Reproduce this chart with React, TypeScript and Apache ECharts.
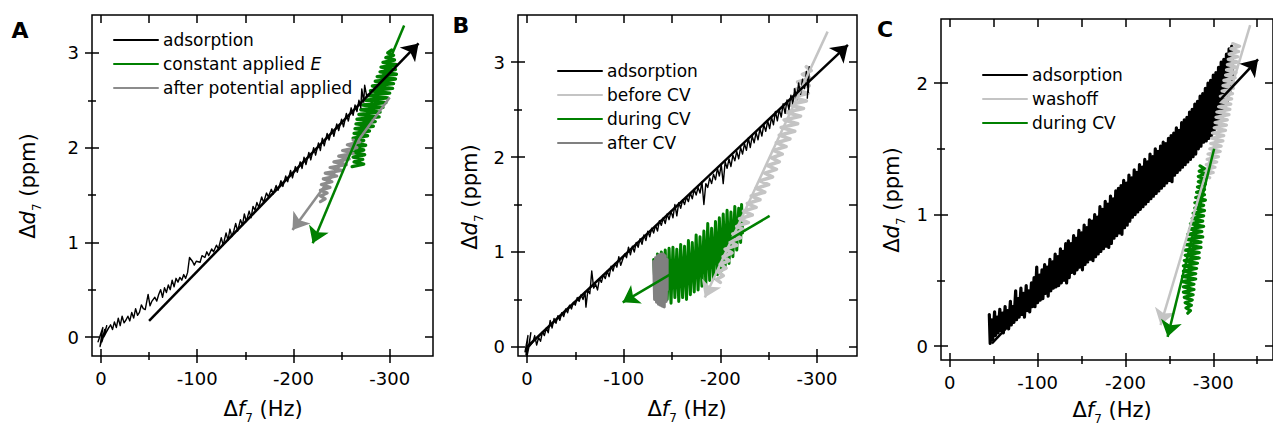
import React, { useEffect, useRef } from "react";
import * as echarts from "echarts";

const FONT = "DejaVu Sans";
const BLACK = "#000000";
const GREEN = "#008000";
const LIGHT = "#c4c4c4";
const MID = "#8c8c8c";
const DARK = "#808080";

// ---------- ticks ----------
const xMajor = [0, -100, -200, -300];
const xMinorAB = [-50, -150, -250];
const xMinorC = [-50, -150, -250, -350];
const yMajorAB = [0, 1, 2, 3];
const yMinorAB = [0.5, 1.5, 2.5];
const yMajorC = [0, 1, 2];
const yMinorC = [0.5, 1.5];

// ---------- Panel A ----------
const aAdsorption = [
  [3, -0.05], [-2, 0.1], [1, -0.1], [-4, 0.08], [-1, -0.05], [-6, 0.12], [-3, 0.0], [-8, 0.1], [-5, 0.04], [-10, 0.13],
  [-12, 0.08], [-14, 0.16], [-16, 0.1], [-18, 0.2], [-20, 0.12], [-22, 0.22], [-24, 0.15], [-26, 0.18], [-28, 0.22], [-30, 0.17],
  [-32, 0.26], [-34, 0.2], [-36, 0.3], [-38, 0.23], [-40, 0.26], [-42, 0.34], [-44, 0.3], [-46, 0.29], [-49, 0.45], [-51, 0.33],
  [-53, 0.38], [-56, 0.42], [-58, 0.38], [-60, 0.45], [-62, 0.5], [-64, 0.42], [-66, 0.52], [-68, 0.47], [-70, 0.55], [-72, 0.5],
  [-74, 0.6], [-76, 0.53], [-78, 0.62], [-80, 0.58], [-82, 0.63], [-84, 0.6], [-86, 0.66], [-88, 0.62], [-90, 0.68], [-92, 0.84],
  [-95, 0.8], [-97, 0.76], [-99, 0.8], [-103, 0.79], [-105, 0.86], [-108, 0.84], [-110, 0.9], [-112, 0.86], [-115, 0.93], [-117, 0.9],
  [-120, 0.97], [-122, 0.93], [-125, 1.05], [-127, 0.97], [-130, 1.1], [-132, 1.02], [-134, 1.14], [-136, 1.06], [-138, 1.12], [-140, 1.2],
  [-142, 1.12], [-145, 1.24], [-147, 1.18], [-149, 1.3], [-151, 1.22], [-154, 1.33], [-156, 1.26], [-158, 1.38], [-160, 1.34], [-162, 1.42],
  [-164, 1.37], [-167, 1.48], [-169, 1.42], [-172, 1.52], [-174, 1.48], [-177, 1.56], [-179, 1.51], [-182, 1.6], [-184, 1.55], [-187, 1.65],
  [-189, 1.59], [-192, 1.7], [-194, 1.64], [-197, 1.76], [-199, 1.68], [-202, 1.8], [-204, 1.74], [-207, 1.85], [-209, 1.78], [-211, 1.9],
  [-213, 1.82], [-216, 1.95], [-218, 1.87], [-221, 2.0], [-223, 1.92], [-226, 2.05], [-228, 1.97], [-230, 2.1], [-232, 2.02], [-235, 2.15],
  [-237, 2.08], [-240, 2.2], [-242, 2.12], [-245, 2.25], [-247, 2.18], [-250, 2.3], [-252, 2.22], [-255, 2.36], [-257, 2.28], [-260, 2.42],
  [-262, 2.34], [-264, 2.45], [-266, 2.38], [-268, 2.5], [-270, 2.42], [-271, 2.62], [-273, 2.48], [-274, 2.66], [-276, 2.55],
];
const aConstantE = [
  [-261, 1.8], [-273, 1.825], [-263, 1.85], [-272, 1.875], [-262, 1.9], [-274, 1.925], [-261, 1.95], [-273, 1.975], [-262, 2.0], [-275, 2.025],
  [-263, 2.05], [-273, 2.075], [-262, 2.1], [-277, 2.125], [-263, 2.15], [-279, 2.175], [-264, 2.2], [-283, 2.225], [-265, 2.25], [-285, 2.275],
  [-266, 2.3], [-289, 2.325], [-268, 2.35], [-290, 2.375], [-270, 2.4], [-293, 2.425], [-272, 2.45], [-296, 2.475], [-275, 2.5], [-298, 2.525],
  [-277, 2.55], [-300, 2.575], [-280, 2.6], [-303, 2.625], [-282, 2.65], [-304, 2.675], [-285, 2.7], [-306, 2.725], [-287, 2.75], [-307, 2.775],
  [-290, 2.8], [-306, 2.825], [-291, 2.85], [-307, 2.875], [-293, 2.9], [-305, 2.925], [-296, 2.95], [-304, 2.975], [-298, 3.0], [-302, 3.03],
];
const aAfter = [
  [-228, 1.43], [-233, 1.46], [-228, 1.49], [-235, 1.52], [-228, 1.55], [-238, 1.58], [-229, 1.61], [-240, 1.64], [-231, 1.67], [-245, 1.7],
  [-233, 1.73], [-250, 1.76], [-238, 1.79], [-255, 1.82], [-242, 1.85], [-258, 1.88], [-247, 1.91], [-262, 1.94], [-251, 1.97], [-266, 2.0],
  [-256, 2.03], [-269, 2.06], [-262, 2.08],
];
const aArrowAdsorption = [[-50, 0.17], [-330, 3.1]];
const aArrowConstantE = [[-315, 3.29], [-220, 0.99]];
const aArrowAfter = [[-300, 2.53], [-199, 1.13]];

// ---------- Panel B ----------
const bAdsorption = [
  [2, -0.05], [-1, 0.12], [1, -0.08], [-3, 0.05], [0, -0.1], [-4, 0.15], [-2, 0.0], [-6, 0.05], [-8, 0.12], [-10, 0.02],
  [-12, 0.1], [-14, 0.06], [-16, 0.16], [-18, 0.12], [-20, 0.2], [-22, 0.15], [-24, 0.28], [-26, 0.2], [-28, 0.3], [-30, 0.25],
  [-32, 0.33], [-34, 0.28], [-36, 0.36], [-38, 0.32], [-40, 0.4], [-42, 0.36], [-44, 0.44], [-46, 0.4], [-48, 0.47], [-50, 0.44],
  [-52, 0.52], [-54, 0.48], [-56, 0.55], [-58, 0.5], [-60, 0.58], [-61, 0.42], [-63, 0.6], [-65, 0.56], [-67, 0.8], [-69, 0.62],
  [-71, 0.66], [-73, 0.6], [-75, 0.72], [-77, 0.68], [-79, 0.76], [-81, 0.72], [-83, 0.8], [-85, 0.74], [-87, 0.85], [-89, 0.8],
  [-91, 0.88], [-93, 0.84], [-95, 0.95], [-97, 0.86], [-99, 0.92], [-101, 0.98], [-103, 0.94], [-105, 1.05], [-107, 0.97], [-109, 1.06],
  [-111, 1.0], [-113, 1.1], [-115, 1.05], [-117, 1.14], [-119, 1.08], [-121, 1.18], [-123, 1.12], [-125, 1.22], [-127, 1.16], [-129, 1.25],
  [-131, 1.2], [-133, 1.28], [-135, 1.22], [-137, 1.33], [-139, 1.28], [-141, 1.36], [-143, 1.3], [-145, 1.4], [-147, 1.34], [-149, 1.43],
  [-151, 1.36], [-153, 1.5], [-155, 1.38], [-157, 1.52], [-159, 1.46], [-161, 1.55], [-163, 1.5], [-165, 1.58], [-167, 1.53], [-169, 1.62],
  [-171, 1.56], [-173, 1.66], [-175, 1.6], [-177, 1.68], [-179, 1.62], [-181, 1.74], [-183, 1.5], [-185, 1.72], [-187, 1.68], [-189, 1.78],
  [-191, 1.72], [-193, 1.82], [-195, 1.76], [-197, 1.88], [-199, 1.8], [-201, 1.92], [-203, 1.72], [-205, 1.95], [-207, 1.88], [-209, 1.98],
  [-211, 1.9], [-213, 2.02], [-215, 1.96], [-217, 2.06], [-219, 1.98], [-221, 2.1], [-223, 2.03], [-225, 2.14], [-227, 2.07], [-229, 2.2],
  [-231, 2.1], [-233, 2.22], [-235, 2.15], [-237, 2.26], [-239, 2.18], [-241, 2.3], [-243, 2.22], [-245, 2.34], [-247, 2.27], [-249, 2.38],
  [-251, 2.3], [-253, 2.42], [-255, 2.34], [-257, 2.48], [-259, 2.38], [-261, 2.5], [-263, 2.42], [-265, 2.56], [-267, 2.46], [-269, 2.6],
  [-271, 2.5], [-273, 2.65], [-275, 2.56], [-277, 2.72], [-279, 2.6], [-281, 2.78], [-283, 2.66], [-285, 2.82], [-287, 2.72], [-289, 2.9],
  [-291, 2.68], [-292, 2.95], [-290, 2.62],
];
const bBeforeCV = [
  [-289, 2.95], [-294, 2.91], [-285, 2.87], [-293, 2.83], [-280, 2.79], [-292, 2.75], [-277, 2.71], [-291, 2.67], [-274, 2.63], [-289, 2.59],
  [-271, 2.55], [-286, 2.51], [-268, 2.47], [-283, 2.43], [-266, 2.39], [-280, 2.35], [-263, 2.31], [-277, 2.27], [-261, 2.23], [-272, 2.19],
  [-258, 2.15], [-268, 2.11], [-255, 2.07], [-264, 2.03], [-253, 1.99], [-261, 1.95], [-249, 1.91], [-258, 1.87], [-246, 1.83], [-254, 1.79],
  [-241, 1.75], [-250, 1.71], [-237, 1.67], [-246, 1.63], [-232, 1.59], [-241, 1.55], [-228, 1.51], [-237, 1.47], [-224, 1.43], [-233, 1.39],
  [-220, 1.35], [-229, 1.31], [-217, 1.27], [-225, 1.23], [-213, 1.19], [-221, 1.15], [-210, 1.11], [-217, 1.07], [-205, 1.03], [-212, 0.99],
  [-203, 0.95], [-209, 0.91], [-200, 0.87], [-206, 0.83], [-198, 0.79], [-203, 0.75], [-196, 0.71], [-200, 0.68],
];
const bDuringCV = [
  [-131, 0.92], [-133, 0.55], [-135, 0.98], [-137, 0.48], [-139, 1.0], [-141, 0.45], [-143, 1.02], [-145, 0.5], [-147, 1.04], [-149, 0.46],
  [-151, 1.05], [-153, 0.52], [-155, 1.03], [-157, 0.48], [-159, 1.08], [-161, 0.52], [-163, 1.06], [-165, 0.5], [-167, 1.12], [-169, 0.55],
  [-171, 1.1], [-173, 0.58], [-175, 1.18], [-177, 0.6], [-179, 1.16], [-181, 0.64], [-183, 1.22], [-185, 0.66], [-187, 1.3], [-189, 0.7],
  [-191, 1.25], [-193, 0.72], [-195, 1.32], [-197, 0.76], [-199, 1.36], [-201, 0.8], [-203, 1.4], [-205, 0.84], [-207, 1.44], [-209, 0.88],
  [-211, 1.42], [-213, 0.95], [-215, 1.48], [-217, 1.02], [-219, 1.46], [-221, 1.1], [-222, 1.5], [-223, 1.2],
];
const bAfterCV = [
  [-131, 0.9], [-132, 0.5], [-133, 0.94], [-134, 0.47], [-135, 0.96], [-136, 0.45], [-137, 0.97], [-138, 0.44], [-139, 0.98], [-140, 0.43],
  [-141, 0.98], [-142, 0.42], [-143, 0.96], [-144, 0.48], [-145, 0.92], [-145, 0.6],
];
const bArrowAdsorption = [[0, 0], [-332, 3.18]];
const bArrowBefore = [[-311, 3.32], [-184, 0.52]];
const bArrowDuring = [[-251, 1.38], [-99, 0.47]];

// ---------- Panel C ----------
const cAdsorption = [
  [-45, 0.24], [-46, 0.02], [-48, 0.2], [-49, 0.05], [-51, 0.26], [-52, 0.08], [-54, 0.22], [-55, 0.1], [-57, 0.28], [-58, 0.12],
  [-60, 0.25], [-61, 0.1], [-63, 0.3], [-64, 0.14], [-66, 0.27], [-67, 0.13], [-69, 0.34], [-70, 0.16], [-72, 0.3], [-73, 0.18],
  [-75, 0.42], [-76, 0.2], [-78, 0.36], [-79, 0.22], [-81, 0.44], [-82, 0.24], [-84, 0.4], [-85, 0.22], [-87, 0.46], [-88, 0.27],
  [-90, 0.42], [-91, 0.26], [-93, 0.48], [-94, 0.3], [-96, 0.52], [-97, 0.3], [-99, 0.6], [-100, 0.33], [-102, 0.54], [-103, 0.35],
  [-105, 0.58], [-106, 0.36], [-108, 0.62], [-109, 0.4], [-111, 0.6], [-112, 0.38], [-114, 0.66], [-115, 0.42], [-117, 0.64], [-118, 0.44],
  [-120, 0.7], [-121, 0.45], [-123, 0.68], [-124, 0.46], [-126, 0.74], [-127, 0.48], [-129, 0.72], [-130, 0.5], [-132, 0.78], [-133, 0.48],
  [-135, 0.8], [-136, 0.52], [-138, 0.78], [-139, 0.56], [-141, 0.84], [-142, 0.55], [-144, 0.82], [-145, 0.58], [-147, 0.88], [-148, 0.6],
  [-150, 0.86], [-151, 0.58], [-153, 0.92], [-154, 0.62], [-156, 0.9], [-157, 0.64], [-159, 0.96], [-160, 0.66], [-162, 0.95], [-163, 0.65],
  [-165, 1.0], [-166, 0.68], [-168, 0.98], [-169, 0.7], [-171, 1.06], [-172, 0.72], [-174, 1.04], [-175, 0.74], [-177, 1.1], [-178, 0.76],
  [-180, 1.08], [-181, 0.75], [-183, 1.14], [-184, 0.78], [-186, 1.12], [-187, 0.82], [-189, 1.18], [-190, 0.84], [-192, 1.2], [-193, 0.86],
  [-195, 1.22], [-196, 0.85], [-198, 1.26], [-199, 0.9], [-201, 1.24], [-202, 0.92], [-204, 1.3], [-205, 0.95], [-207, 1.28], [-208, 0.98],
  [-210, 1.34], [-211, 1.0], [-213, 1.32], [-214, 1.02], [-216, 1.38], [-217, 1.04], [-219, 1.36], [-220, 1.06], [-222, 1.42], [-223, 1.08],
  [-225, 1.4], [-226, 1.1], [-228, 1.46], [-229, 1.12], [-231, 1.44], [-232, 1.14], [-234, 1.5], [-235, 1.16], [-237, 1.48], [-238, 1.18],
  [-240, 1.52], [-241, 1.2], [-243, 1.55], [-244, 1.22], [-246, 1.54], [-247, 1.24], [-249, 1.58], [-250, 1.26], [-252, 1.6], [-253, 1.25],
  [-255, 1.62], [-256, 1.3], [-258, 1.66], [-259, 1.32], [-261, 1.64], [-262, 1.34], [-264, 1.7], [-265, 1.36], [-267, 1.72], [-268, 1.38],
  [-270, 1.74], [-271, 1.4], [-273, 1.78], [-274, 1.42], [-276, 1.8], [-277, 1.44], [-279, 1.84], [-280, 1.46], [-282, 1.86], [-283, 1.5],
  [-285, 1.9], [-286, 1.52], [-288, 1.92], [-289, 1.55], [-291, 1.96], [-292, 1.56], [-294, 2.0], [-295, 1.58], [-297, 2.02], [-298, 1.6],
  [-300, 2.06], [-301, 1.62], [-303, 2.08], [-304, 1.66], [-306, 2.12], [-307, 1.7], [-309, 2.16], [-310, 1.74], [-312, 2.18], [-313, 1.8],
  [-315, 2.22], [-316, 1.86], [-318, 2.26], [-319, 1.92], [-321, 2.28], [-322, 2.0],
];
const cWashoff = [
  [-322, 2.3], [-330, 2.28], [-320, 2.26], [-329, 2.24], [-318, 2.22], [-328, 2.2], [-317, 2.18], [-328, 2.16], [-316, 2.14], [-327, 2.12],
  [-315, 2.1], [-326, 2.08], [-314, 2.06], [-325, 2.04], [-312, 2.02], [-324, 2.0], [-311, 1.98], [-323, 1.96], [-310, 1.94], [-322, 1.92],
  [-308, 1.9], [-321, 1.88], [-307, 1.86], [-320, 1.84], [-306, 1.82], [-319, 1.8], [-304, 1.78], [-318, 1.76], [-303, 1.74], [-316, 1.72],
  [-302, 1.7], [-315, 1.68], [-301, 1.66], [-314, 1.64], [-299, 1.62], [-312, 1.6], [-298, 1.58], [-311, 1.56], [-297, 1.54], [-309, 1.52],
  [-296, 1.5], [-308, 1.48], [-294, 1.46], [-306, 1.44], [-293, 1.42], [-304, 1.4], [-292, 1.38], [-302, 1.36], [-290, 1.34], [-300, 1.32],
  [-289, 1.3], [-296, 1.28],
];
const cDuringCV = [
  [-285, 1.37], [-290, 1.35], [-284, 1.33], [-291, 1.31], [-283, 1.29], [-290, 1.27], [-283, 1.25], [-291, 1.23], [-282, 1.21], [-290, 1.19],
  [-281, 1.17], [-290, 1.15], [-280, 1.13], [-291, 1.11], [-279, 1.09], [-289, 1.07], [-279, 1.05], [-290, 1.03], [-277, 1.01], [-289, 0.99],
  [-276, 0.97], [-288, 0.95], [-274, 0.93], [-289, 0.91], [-273, 0.89], [-287, 0.87], [-271, 0.85], [-288, 0.83], [-270, 0.81], [-286, 0.79],
  [-269, 0.77], [-286, 0.75], [-268, 0.73], [-284, 0.71], [-268, 0.69], [-284, 0.67], [-267, 0.65], [-282, 0.63], [-266, 0.61], [-281, 0.59],
  [-266, 0.57], [-280, 0.55], [-265, 0.53], [-280, 0.51], [-265, 0.49], [-278, 0.47], [-266, 0.45], [-278, 0.43], [-266, 0.41], [-277, 0.39],
  [-267, 0.37], [-276, 0.35], [-268, 0.33], [-275, 0.31], [-269, 0.29], [-274, 0.27], [-271, 0.25],
];
const cArrowAdsorption = [[-48, 0.02], [-351, 2.18]];
const cArrowWashoff = [[-342, 2.44], [-240, 0.16]];
const cArrowDuring = [[-301, 1.5], [-248, 0.07]];

const legendA = ["adsorption", "constant applied E", "after potential applied"];
const legendB = ["adsorption", "before CV", "during CV", "after CV"];
const legendC = ["adsorption", "washoff", "during CV"];

function buildAxes(gi: number, range: number[], maj: number[], minr: number[], dim: "x" | "y") {
  const tick = (inside: boolean, length: number, values: number[]) => ({
    show: true, inside, length, customValues: values, lineStyle: { color: BLACK, width: 1.5 },
  });
  const base: any = {
    type: "value", gridIndex: gi, min: range[0], max: range[1], inverse: dim === "x",
    splitLine: { show: false }, axisLine: { show: false, onZero: false }, axisLabel: { show: false },
  };
  const p1 = dim === "x" ? "bottom" : "left";
  const p2 = dim === "x" ? "top" : "right";
  return [
    {
      ...base, position: p1, axisTick: tick(false, 7, maj),
      axisLabel: { show: true, customValues: maj, margin: 13, fontSize: 18, fontFamily: FONT, color: BLACK },
    },
    { ...base, position: p1, axisTick: tick(false, 4, minr) },
    { ...base, position: p1, axisTick: tick(true, 7, maj) },
    { ...base, position: p1, axisTick: tick(true, 4, minr) },
    { ...base, position: p2, axisTick: tick(true, 8, [...maj, ...minr]) },
  ];
}

const trace = (name: string, data: number[][], color: string, gi: number, width = 1.4) => ({
  type: "line", name, data, xAxisIndex: gi * 5, yAxisIndex: gi * 5, symbol: "none", showSymbol: false,
  lineStyle: { color, width, join: "round", cap: "round" }, itemStyle: { color }, silent: true, z: 2,
});
const arrow = (coords: number[][], color: string, gi: number) => ({
  type: "lines", coordinateSystem: "cartesian2d", xAxisIndex: gi * 5, yAxisIndex: gi * 5,
  symbol: ["none", "arrow"], symbolSize: 16, silent: true, z: 3,
  lineStyle: { color, width: 2.5, opacity: 1 }, itemStyle: { color },
  data: [{ coords }],
});

const richTitle = {
  n: { fontSize: 21, fontFamily: FONT, color: BLACK },
  i: { fontSize: 21, fontFamily: FONT, fontStyle: "italic", color: BLACK },
  s: { fontSize: 12, fontFamily: FONT, color: BLACK, padding: [18, 0, 0, 0] },
};
const xTitle = (x: number, y: number) => ({
  type: "text", x, y, silent: true,
  style: { text: "{n|Δ}{i|f}{s|7}{n| (Hz)}", rich: richTitle, align: "center", verticalAlign: "middle" },
});
const yTitle = (x: number, y: number) => ({
  type: "text", x, y, rotation: Math.PI / 2, silent: true,
  style: { text: "{n|Δ}{i|d}{s|7}{n| (ppm)}", rich: richTitle, align: "center", verticalAlign: "middle" },
});
const letter = (t: string, x: number, y: number) => ({
  type: "text", x, y, silent: true,
  style: { text: t, fontSize: 22, fontWeight: "bold", fontFamily: FONT, fill: BLACK, align: "center", verticalAlign: "middle" },
});
const legend = (data: string[], left: number, top: number) => ({
  left, top, padding: 0, orient: "vertical", itemWidth: 44, itemHeight: 2, itemGap: 4, selectedMode: false, data,
  lineStyle: { width: 2 },
  textStyle: {
    fontSize: 17, fontFamily: FONT, color: BLACK, lineHeight: 20,
    rich: { i: { fontSize: 17, fontFamily: FONT, fontStyle: "italic", color: BLACK, lineHeight: 20 } },
  },
  formatter: (n: string) => (n === "constant applied E" ? "constant applied {i|E}" : n),
});

export default function App() {
  const ref = useRef<HTMLDivElement>(null);
  useEffect(() => {
    if (!ref.current) return;
    const chart = echarts.init(ref.current, null, { renderer: "svg" });
    const ranges = {
      ax: [-345, 9.3], ay: [-0.2, 3.4],
      bx: [-341.4, 9.3], by: [-0.095, 3.495],
      cx: [-368, 10], cy: [-0.106, 2.487],
    };
    chart.setOption({
      animation: false,
      backgroundColor: "#ffffff",
      grid: [
        { left: 92, top: 15, width: 341, height: 341, show: true, borderColor: BLACK, borderWidth: 1.5 },
        { left: 518, top: 15, width: 339, height: 341, show: true, borderColor: BLACK, borderWidth: 1.5 },
        { left: 941, top: 19, width: 339, height: 341, show: true, borderColor: BLACK, borderWidth: 1.5 },
      ],
      xAxis: [
        ...buildAxes(0, ranges.ax, xMajor, xMinorAB, "x"),
        ...buildAxes(1, ranges.bx, xMajor, xMinorAB, "x"),
        ...buildAxes(2, ranges.cx, xMajor, xMinorC, "x"),
      ],
      yAxis: [
        ...buildAxes(0, ranges.ay, yMajorAB, yMinorAB, "y"),
        ...buildAxes(1, ranges.by, yMajorAB, yMinorAB, "y"),
        ...buildAxes(2, ranges.cy, yMajorC, yMinorC, "y"),
      ],
      legend: [legend(legendA, 113, 30), legend(legendB, 557, 61), legend(legendC, 982, 65)],
      series: [
        trace("constant applied E", aConstantE, GREEN, 0, 3.4),
        trace("after potential applied", aAfter, MID, 0, 3.2),
        trace("adsorption", aAdsorption, BLACK, 0),
        arrow(aArrowAfter, MID, 0),
        arrow(aArrowConstantE, GREEN, 0),
        arrow(aArrowAdsorption, BLACK, 0),

        trace("during CV", bDuringCV, GREEN, 1, 3),
        trace("after CV", bAfterCV, DARK, 1, 3),
        trace("before CV", bBeforeCV, LIGHT, 1, 3.6),
        trace("adsorption", bAdsorption, BLACK, 1),
        arrow(bArrowBefore, LIGHT, 1),
        arrow(bArrowDuring, GREEN, 1),
        arrow(bArrowAdsorption, BLACK, 1),

        trace("adsorption", cAdsorption, BLACK, 2, 3.2),
        trace("washoff", cWashoff, LIGHT, 2, 3.2),
        trace("during CV", cDuringCV, GREEN, 2, 3.2),
        arrow(cArrowWashoff, LIGHT, 2),
        arrow(cArrowDuring, GREEN, 2),
        arrow(cArrowAdsorption, BLACK, 2),
      ],
      graphic: [
        letter("A", 20, 30), letter("B", 461, 25), letter("C", 885, 29),
        xTitle(263, 409), xTitle(687, 409), xTitle(1112, 410),
        yTitle(28, 186), yTitle(470, 197), yTitle(892, 200),
      ],
    });
    return () => chart.dispose();
  }, []);
  return (
    <div
      ref={ref}
      style={{ position: "absolute", left: 0, top: 0, width: 1273, height: 425, background: "#fff", overflow: "hidden" }}
    />
  );
}
